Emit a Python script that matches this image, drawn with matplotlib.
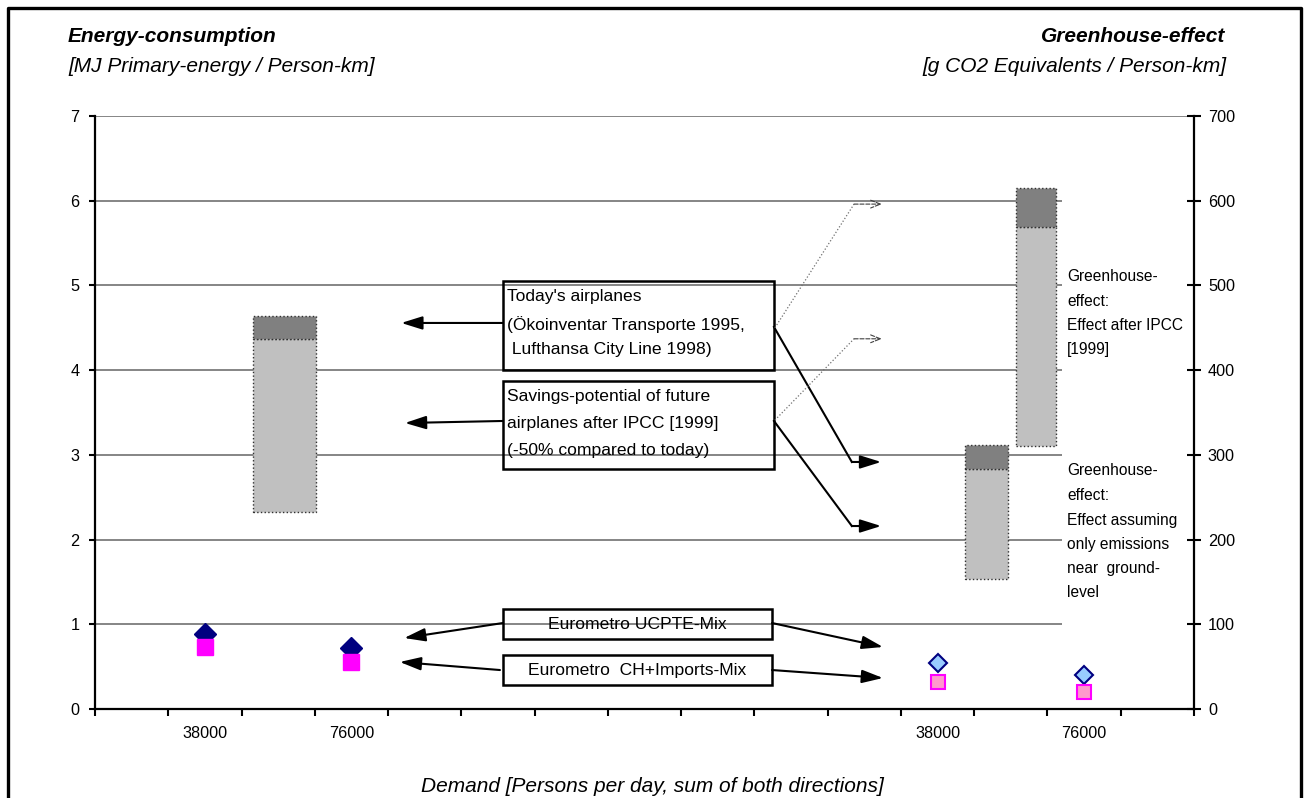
import matplotlib
matplotlib.use('Agg')
import matplotlib.pyplot as plt
from matplotlib import font_manager
from matplotlib.patches import Rectangle

# ---- data ----
n_slots = 15                      # category slots on the x axis
demand_labels = ['38000', '76000', '38000', '76000']
demand_slots = [1, 3, 11, 13]

# energy consumption [MJ / person-km]
energy_ucpte = [0.89, 0.72]
energy_ch = [0.73, 0.56]
# greenhouse effect [g CO2 eq / person-km]
ghg_ucpte = [54.7, 40.2]
ghg_ch = [32.3, 20.5]

# airplane ranges: (low, future savings limit, today)
plane_energy = (2.32, 4.37, 4.64)
plane_ghg_ground = (153.5, 283.5, 311.5)
plane_ghg_ipcc = (311.0, 569.5, 614.5)

# ---- fonts ----
names = {f.name for f in font_manager.fontManager.ttflist}
if 'Liberation Sans Narrow' in names:
    NARROW, nscale, tscale = 'Liberation Sans Narrow', 1.0, 1.0
else:
    NARROW, nscale, tscale = 'Liberation Sans', 0.84, 0.9
plt.rcParams['font.family'] = ['Liberation Sans', 'DejaVu Sans']

W, H = 1308, 798
fig = plt.figure(figsize=(W / 100, H / 100), dpi=100)
fig.patch.set_facecolor('white')

# outer frame (open at the bottom)
fig.add_artist(plt.Line2D([8 / W, 8 / W, 1301 / W, 1301 / W],
                          [0, 1 - 8 / H, 1 - 8 / H, 0],
                          transform=fig.transFigure, color='black', lw=2.4))

left, right, bottom, top = 95 / W, 1194 / W, 1 - 709 / H, 1 - 116 / H
ax = fig.add_axes([left, bottom, right - left, top - bottom])
ax2 = ax.twinx()

ax.set_xlim(0, n_slots)
ax.set_ylim(0, 7)
ax2.set_ylim(0, 700)

for a in (ax, ax2):
    a.spines['top'].set_visible(False)
    for s in ('left', 'right', 'bottom'):
        a.spines[s].set_linewidth(1.6)

ax.spines['right'].set_visible(False)
ax2.spines['left'].set_visible(False)
ax2.spines['bottom'].set_visible(False)

# grid
ax.set_axisbelow(True)
ax.set_yticks(range(0, 8))
ax.yaxis.grid(True, color='#858585', lw=1.4)
ax.tick_params(axis='y', direction='out', length=4, width=1.5, pad=7,
               labelsize=13 * tscale, labelfontfamily=NARROW)
ax2.set_yticks(range(0, 701, 100))
ax2.tick_params(axis='y', direction='inout', length=10, width=1.5, pad=5,
                labelsize=13 * tscale, labelfontfamily=NARROW)

ax.set_xticks(range(0, n_slots + 1))
ax.set_xticklabels([])
ax.set_xticks([s + 0.5 for s in demand_slots], minor=True)
ax.set_xticklabels(demand_labels, minor=True)
ax.tick_params(axis='x', which='major', direction='out', length=5, width=1.5)
ax.tick_params(axis='x', which='minor', length=0, pad=12,
               labelsize=13 * tscale, labelfontfamily=NARROW)

# white patch behind the right-hand notes (hides grid lines there)
ax.add_patch(Rectangle((13.2, 0.93), 1.72, 5.15, facecolor='white',
                       edgecolor='none', zorder=0.8))

light, dark = '#c0c0c0', '#808080'
edge = dict(edgecolor='#303030', linestyle=':', linewidth=1.0)


def range_bar(a, x, w, vals):
    lo, mid, hi = vals
    a.bar(x, mid - lo, w, bottom=lo, color=light, zorder=2, **edge)
    a.bar(x, hi - mid, w, bottom=mid, color=dark, zorder=2, **edge)


range_bar(ax, 2.586, 0.86, plane_energy)
range_bar(ax2, 12.17, 0.58, plane_ghg_ground)
range_bar(ax2, 12.84, 0.55, plane_ghg_ipcc)

# eurometro points
xl = [s + 0.5 for s in demand_slots[:2]]
xr = [s + 0.5 for s in demand_slots[2:]]
ax.plot(xl, energy_ucpte, 'D', ms=11, color='#000080', zorder=3)
ax.plot(xl, energy_ch, 's', ms=11, color='#ff00ff', zorder=3)
ax2.plot(xr, ghg_ucpte, 'D', ms=9.5, mfc='#99ccff', mec='#000080', mew=1.5, zorder=3)
ax2.plot(xr, ghg_ch, 's', ms=10, mfc='#ff99cc', mec='#ff00ff', mew=1.5, zorder=3)

# ---- annotation boxes and arrows (left-axis data coordinates) ----
head = dict(arrowstyle='-|>,head_length=0.8,head_width=0.25', color='black',
            lw=1.5, mutation_scale=16, shrinkA=0, shrinkB=0)


def arrow(p0, p1, bend=None):
    if bend is not None:
        ax.plot([p0[0], bend[0]], [p0[1], bend[1]], color='black', lw=1.5, zorder=4)
        p0 = bend
    ax.annotate('', xy=p1, xytext=p0, arrowprops=head, zorder=4)


def dotted_arrow(p0, bend, p1):
    ax.plot([p0[0], bend[0]], [p0[1], bend[1]], color='#707070', lw=0.9,
            ls=':', zorder=4)
    ax.annotate('', xy=p1, xytext=bend, zorder=4,
                arrowprops=dict(arrowstyle='->,head_length=0.5,head_width=0.2',
                                color='#404040', lw=0.8, ls='--',
                                mutation_scale=14, shrinkA=0, shrinkB=0))


def box(x0, x1, y0, y1):
    ax.add_patch(Rectangle((x0, y0), x1 - x0, y1 - y0, facecolor='none',
                           edgecolor='black', lw=1.8, zorder=4))


bx0, bx1 = 5.568, 9.267
box(bx0, bx1, 4.0, 5.05)
box(bx0, bx1, 2.835, 3.87)
box(bx0, 9.24, 0.826, 1.18)
box(bx0, 9.24, 0.283, 0.637)

tfont = dict(fontfamily=NARROW, fontsize=15 * nscale, zorder=5, va='center')
for y, s in zip([4.87, 4.54, 4.24],
                ["Today's airplanes", "(Ökoinventar Transporte 1995,",
                 " Lufthansa City Line 1998)"]):
    ax.text(5.63, y, s, ha='left', **tfont)
for y, s in zip([3.69, 3.37, 3.05],
                ["Savings-potential of future", "airplanes after IPCC [1999]",
                 "(-50% compared to today)"]):
    ax.text(5.63, y, s, ha='left', **tfont)
ax.text(7.4, 1.0, 'Eurometro UCPTE-Mix', ha='center', **tfont)
ax.text(7.4, 0.46, 'Eurometro  CH+Imports-Mix', ha='center', **tfont)

arrow((bx0, 4.557), (4.18, 4.557))
arrow((bx0, 3.40), (4.23, 3.376))
arrow((bx1, 4.51), (10.73, 2.916), bend=(10.33, 2.916))
arrow((bx1, 3.40), (10.73, 2.16), bend=(10.33, 2.16))
dotted_arrow((9.28, 4.50), (10.36, 5.96), (10.74, 5.96))
dotted_arrow((9.28, 3.41), (10.36, 4.37), (10.74, 4.37))
arrow((bx0, 1.015), (4.22, 0.838))
arrow((9.24, 1.015), (10.755, 0.732))
arrow((5.527, 0.46), (4.16, 0.555))
arrow((9.24, 0.46), (10.755, 0.366))

nfont = dict(fontfamily=NARROW, fontsize=14 * nscale * 0.95, ha='left',
             va='center', zorder=5)
for y, s in zip([277, 302, 326, 350],
                ['Greenhouse-', 'effect:', 'Effect after IPCC', '[1999]']):
    ax.text(13.27, (709 - y) / 84.71, s, **nfont)
for y, s in zip([471, 496, 521, 545, 569, 593],
                ['Greenhouse-', 'effect:', 'Effect assuming', 'only emissions',
                 'near  ground-', 'level']):
    ax.text(13.27, (709 - y) / 84.71, s, **nfont)

# ---- titles ----
fig.text(68 / W, 1 - 37 / H, 'Energy-consumption', fontsize=15,
         fontweight='bold', fontstyle='italic', ha='left', va='center')
fig.text(68 / W, 1 - 66 / H, '[MJ Primary-energy / Person-km]', fontsize=15,
         fontstyle='italic', ha='left', va='center')
fig.text(1225 / W, 1 - 37 / H, 'Greenhouse-effect', fontsize=15,
         fontweight='bold', fontstyle='italic', ha='right', va='center')
fig.text(1226 / W, 1 - 66 / H, '[g CO2 Equivalents / Person-km]', fontsize=15,
         fontstyle='italic', ha='right', va='center')
fig.text(652 / W, 1 - 786 / H, 'Demand [Persons per day, sum of both directions]',
         fontsize=15, fontstyle='italic', ha='center', va='center')

fig.savefig('out.png', dpi=100)
